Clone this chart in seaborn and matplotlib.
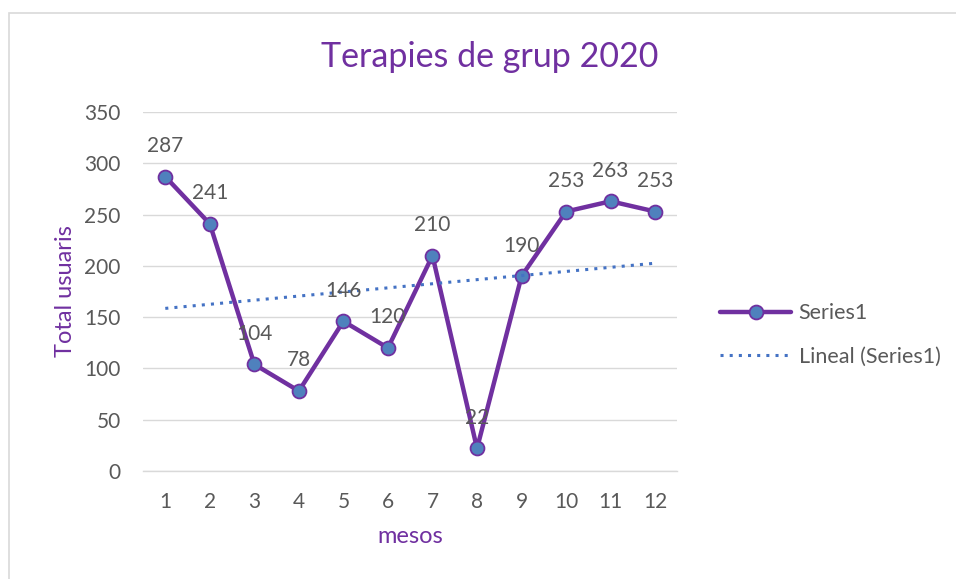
import matplotlib
matplotlib.use('Agg')
import matplotlib.pyplot as plt
import seaborn as sns
from matplotlib.patches import Rectangle
from matplotlib.lines import Line2D

mesos = [1, 2, 3, 4, 5, 6, 7, 8, 9, 10, 11, 12]
usuaris = [287, 241, 104, 78, 146, 120, 210, 22, 190, 253, 263, 253]
y_ticks = [0, 50, 100, 150, 200, 250, 300, 350]

purple = '#7030A0'
blue = '#4F81BD'
trend_blue = '#4472C4'
gray_txt = '#595959'
grid_col = '#D9D9D9'

sns.set_style('white')
plt.rcParams['font.family'] = ['Lato', 'DejaVu Sans']

fig = plt.figure(figsize=(9.56, 5.79), dpi=100)
ax = fig.add_axes([0.1496, 0.1865, 0.559, 0.620])

# main series
sns.lineplot(x=mesos, y=usuaris, ax=ax, color=purple, linewidth=3.2,
             marker='o', markersize=10, markerfacecolor=blue,
             markeredgecolor=purple, markeredgewidth=1.3, zorder=3)

# linear trendline
sns.regplot(x=mesos, y=usuaris, ax=ax, scatter=False, ci=None, truncate=True,
            line_kws={'color': trend_blue, 'linestyle': (0, (1, 2)),
                      'linewidth': 2.2, 'zorder': 4})

# data labels
for m, v in zip(mesos, usuaris):
    ax.annotate(str(v), (m, v), xytext=(0, 22), textcoords='offset points',
                ha='center', va='center', fontsize=15, color=gray_txt, zorder=5)

ax.set_xlim(0.5, 12.5)
ax.set_ylim(0, 350)
ax.set_xticks(mesos)
ax.set_yticks(y_ticks)
ax.tick_params(axis='both', length=0, labelsize=15, labelcolor=gray_txt)
ax.tick_params(axis='y', pad=16)
ax.tick_params(axis='x', pad=15)
ax.yaxis.grid(True, color=grid_col, linewidth=1)
ax.set_axisbelow(True)
for s in ['top', 'right', 'left']:
    ax.spines[s].set_visible(False)
ax.spines['bottom'].set_color(grid_col)
ax.spines['bottom'].set_linewidth(1)

ax.set_xlabel('mesos', fontsize=17, color=purple, labelpad=10)
ax.set_ylabel('Total usuaris', fontsize=17, color=purple, labelpad=6)

fig.text(490 / 956, 1 - 57 / 579, 'Terapies de grup 2020', ha='center', va='center',
         fontsize=24.5, color=purple)

handles = [
    Line2D([], [], color=purple, linewidth=3.2, marker='o', markersize=10,
           markerfacecolor=blue, markeredgecolor=purple, markeredgewidth=1.3),
    Line2D([], [], color=trend_blue, linestyle=(0, (1, 2)), linewidth=2.2),
]
leg = fig.legend(handles, ['Series1', 'Lineal (Series1)'], loc='center left',
                 bbox_to_anchor=(720 / 956, 1 - 335 / 579), frameon=False,
                 fontsize=15.5, handlelength=3.3, handletextpad=0.35,
                 labelspacing=1.1, borderpad=0, borderaxespad=0)
for t in leg.get_texts():
    t.set_color(gray_txt)

# chart border
fig.patches.append(Rectangle((9 / 956, -0.1), 1.2, 1 - 13 / 579 + 0.1,
                             transform=fig.transFigure, fill=False,
                             edgecolor=grid_col, linewidth=1.2))

fig.savefig('out.png', dpi=100)
